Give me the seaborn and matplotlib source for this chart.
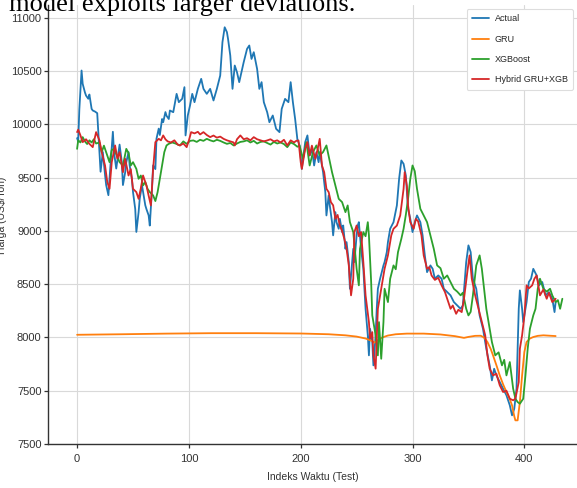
import matplotlib
matplotlib.use("Agg")
import matplotlib.pyplot as plt
import pandas as pd
import seaborn as sns

# ---- data: test-set index and price per model ----
actual_idx = [0, 1, 2, 4, 5, 7, 8, 10, 11, 13, 14, 16, 18, 20, 21, 23, 25, 26, 28, 29, 32, 33, 35, 37, 38, 40, 41, 43, 44, 46, 47, 49, 50, 52, 53, 55, 56, 58, 59, 61, 62, 64, 65, 67, 68, 70, 71, 73, 74, 76, 77, 79, 80, 82, 83, 86, 89, 91, 94, 96, 97, 99, 101, 103, 105, 108, 111, 113, 116, 119, 122, 125, 128, 130, 132, 134, 135, 137, 139, 141, 143, 145, 147, 149, 152, 154, 156, 158, 161, 163, 165, 167, 170, 172, 175, 178, 181, 183, 186, 189, 191, 193, 195, 197, 199, 201, 204, 206, 208, 210, 212, 214, 216, 217, 220, 222, 223, 225, 226, 228, 229, 231, 232, 234, 235, 237, 238, 240, 241, 243, 244, 245, 247, 248, 250, 251, 252, 254, 256, 257, 258, 260, 261, 262, 264, 265, 267, 268, 269, 271, 274, 275, 277, 278, 280, 283, 286, 288, 290, 292, 294, 296, 298, 300, 302, 304, 307, 309, 311, 313, 316, 318, 320, 323, 326, 328, 331, 334, 337, 340, 343, 345, 348, 350, 352, 354, 357, 360, 363, 366, 369, 371, 373, 375, 378, 381, 384, 387, 389, 391, 393, 395, 396, 398, 399, 402, 404, 406, 408, 411, 413, 416, 419, 422, 425, 427, 428]
actual_val = [9870, 9840, 10140, 10505, 10380, 10300, 10270, 10240, 10280, 10145, 10130, 10120, 10105, 9740, 9555, 9740, 9525, 9430, 9335, 9490, 9930, 9740, 9585, 9740, 9810, 9645, 9430, 9550, 9645, 9740, 9615, 9490, 9365, 9205, 8990, 9175, 9300, 9430, 9365, 9240, 9205, 9145, 9050, 9395, 9615, 9580, 9865, 9960, 9900, 10050, 10020, 10115, 10080, 10050, 10130, 10114, 10286, 10208, 10240, 10349, 9896, 10083, 10177, 10286, 10208, 10333, 10427, 10333, 10286, 10333, 10224, 10333, 10458, 10771, 10911, 10865, 10802, 10646, 10333, 10552, 10489, 10396, 10489, 10583, 10708, 10740, 10614, 10677, 10520, 10333, 10396, 10208, 10114, 10020, 10083, 9958, 9927, 10145, 10239, 10208, 10396, 10208, 10051, 9860, 9802, 9582, 9833, 9896, 9708, 9770, 9614, 9739, 9645, 9739, 9551, 9364, 9145, 9333, 9239, 9082, 8958, 9176, 9082, 9020, 9113, 8989, 9051, 8832, 8895, 8707, 8457, 8582, 8832, 8707, 8958, 9051, 9082, 8832, 8644, 8457, 8269, 8020, 7832, 8082, 7957, 7738, 8020, 8269, 8457, 8551, 8676, 8707, 8801, 8895, 9020, 9082, 9239, 9489, 9661, 9629, 9520, 9207, 9113, 8989, 9082, 9145, 9082, 8958, 8770, 8613, 8676, 8644, 8551, 8582, 8551, 8457, 8426, 8395, 8332, 8301, 8269, 8301, 8707, 8864, 8801, 8551, 8457, 8207, 8082, 7894, 7738, 7597, 7706, 7644, 7582, 7519, 7457, 7363, 7269, 7331, 7519, 8269, 8442, 8269, 8144, 8332, 8520, 8551, 8644, 8582, 8489, 8520, 8395, 8426, 8363, 8238, 8332]

gru_idx = [0, 40, 80, 120, 160, 200, 225, 240, 250, 258, 263, 266, 269, 273, 278, 285, 295, 310, 325, 338, 346, 350, 356, 361, 364, 367, 370, 372, 375, 378, 381, 384, 387, 389, 391, 392, 394, 396, 398, 400, 402, 405, 408, 412, 417, 423, 428]
gru_val = [8025, 8030, 8036, 8040, 8040, 8037, 8030, 8020, 8008, 7990, 7970, 7952, 7975, 8000, 8018, 8030, 8036, 8036, 8028, 8012, 7996, 8005, 8015, 8016, 8000, 7957, 7890, 7832, 7740, 7644, 7560, 7488, 7420, 7363, 7260, 7222, 7222, 7394, 7644, 7863, 7957, 7990, 8004, 8015, 8020, 8016, 8013]

xgb_idx = [0, 1, 3, 5, 7, 9, 11, 13, 15, 17, 20, 22, 24, 27, 29, 31, 33, 35, 38, 41, 44, 46, 48, 50, 53, 55, 57, 59, 61, 63, 65, 68, 70, 72, 74, 76, 78, 80, 82, 85, 88, 92, 95, 98, 101, 104, 107, 110, 113, 116, 119, 122, 125, 128, 131, 134, 137, 140, 143, 146, 149, 152, 155, 158, 161, 164, 167, 170, 173, 176, 179, 182, 185, 188, 191, 194, 197, 199, 202, 205, 208, 211, 214, 217, 220, 223, 225, 228, 231, 234, 237, 240, 242, 244, 247, 250, 252, 253, 256, 258, 260, 261, 263, 264, 267, 269, 270, 272, 274, 275, 278, 280, 283, 285, 287, 290, 292, 294, 296, 298, 300, 302, 304, 307, 310, 313, 316, 319, 322, 325, 328, 331, 334, 337, 340, 343, 345, 348, 350, 352, 354, 357, 360, 362, 364, 366, 369, 371, 374, 377, 380, 382, 384, 387, 390, 392, 394, 396, 399, 401, 403, 405, 408, 410, 412, 414, 417, 420, 423, 425, 428, 430, 432, 434]
xgb_val = [9770, 9850, 9830, 9880, 9840, 9815, 9850, 9830, 9860, 9820, 9830, 9739, 9800, 9708, 9645, 9760, 9770, 9720, 9645, 9614, 9770, 9730, 9614, 9645, 9582, 9489, 9520, 9427, 9458, 9395, 9364, 9333, 9280, 9364, 9489, 9614, 9739, 9802, 9817, 9830, 9820, 9802, 9840, 9817, 9845, 9849, 9835, 9855, 9845, 9864, 9850, 9840, 9855, 9845, 9830, 9817, 9825, 9802, 9820, 9835, 9840, 9850, 9830, 9845, 9820, 9835, 9840, 9825, 9810, 9835, 9820, 9830, 9815, 9786, 9830, 9815, 9790, 9800, 9676, 9833, 9614, 9739, 9802, 9708, 9740, 9802, 9700, 9551, 9427, 9301, 9270, 9176, 9239, 9082, 8989, 8644, 8489, 8832, 8989, 8950, 9082, 8958, 8520, 8207, 8020, 7832, 8144, 7800, 8144, 8457, 8332, 8551, 8676, 8640, 8801, 8926, 9020, 9150, 9300, 9489, 9614, 9560, 9395, 9207, 9145, 9082, 8958, 8832, 8676, 8650, 8551, 8582, 8520, 8457, 8430, 8395, 8420, 8269, 8207, 8240, 8395, 8676, 8770, 8644, 8457, 8269, 8082, 7957, 7832, 7860, 7738, 7790, 7644, 7769, 7519, 7425, 7394, 7378, 7425, 7644, 7894, 8082, 8207, 8269, 8457, 8551, 8457, 8430, 8457, 8395, 8332, 8350, 8269, 8363]

hyb_idx = [0, 1, 3, 5, 8, 11, 14, 17, 20, 22, 25, 27, 29, 31, 34, 36, 38, 41, 43, 46, 48, 50, 53, 55, 57, 59, 62, 64, 66, 68, 70, 73, 75, 77, 79, 81, 84, 87, 90, 92, 95, 98, 100, 102, 105, 108, 110, 113, 116, 119, 122, 125, 128, 131, 134, 137, 140, 141, 143, 146, 149, 152, 155, 158, 161, 164, 167, 170, 173, 176, 179, 182, 185, 188, 191, 194, 196, 198, 200, 201, 204, 206, 208, 210, 213, 215, 217, 219, 221, 223, 225, 227, 229, 231, 233, 235, 237, 239, 241, 243, 245, 247, 248, 250, 252, 254, 256, 258, 261, 262, 264, 265, 267, 268, 269, 272, 275, 278, 281, 283, 286, 289, 292, 293, 295, 296, 298, 301, 303, 305, 308, 310, 313, 315, 317, 320, 323, 326, 329, 332, 334, 336, 339, 341, 344, 346, 349, 351, 353, 356, 359, 362, 365, 367, 369, 372, 375, 378, 381, 384, 387, 390, 392, 395, 396, 398, 400, 402, 404, 407, 409, 411, 414, 417, 420, 422, 425, 428]
hyb_val = [9927, 9950, 9896, 9833, 9860, 9817, 9786, 9927, 9849, 9739, 9614, 9458, 9395, 9645, 9802, 9680, 9739, 9551, 9676, 9520, 9580, 9395, 9364, 9301, 9400, 9520, 9427, 9330, 9239, 9582, 9833, 9864, 9850, 9896, 9860, 9840, 9830, 9850, 9810, 9802, 9820, 9786, 9850, 9927, 9915, 9930, 9905, 9927, 9900, 9880, 9895, 9875, 9885, 9864, 9850, 9840, 9830, 9802, 9860, 9896, 9860, 9870, 9850, 9880, 9860, 9850, 9840, 9849, 9860, 9840, 9850, 9830, 9855, 9802, 9850, 9830, 9845, 9849, 9645, 9582, 9770, 9833, 9708, 9800, 9676, 9760, 9864, 9614, 9551, 9395, 9364, 9270, 9240, 9113, 9150, 9051, 9000, 8926, 8832, 8676, 8395, 8551, 8989, 9051, 8950, 8989, 8707, 8395, 8144, 7988, 8050, 7832, 7707, 7988, 8269, 8457, 8644, 8770, 8958, 9020, 9050, 9145, 9395, 9551, 9420, 9239, 9082, 9020, 9113, 9090, 8958, 8770, 8644, 8660, 8582, 8540, 8560, 8489, 8426, 8332, 8269, 8300, 8222, 8260, 8238, 8360, 8613, 8770, 8551, 8395, 8269, 8144, 8020, 7832, 7707, 7644, 7660, 7551, 7488, 7500, 7425, 7410, 7425, 7582, 7894, 8020, 8200, 8489, 8460, 8489, 8551, 8582, 8395, 8450, 8363, 8420, 8332, 8363]

series_names = ["Actual", "GRU", "XGBoost", "Hybrid GRU+XGB"]
series_colors = ["#1f77b4", "#ff7f0e", "#2ca02c", "#d62728"]

y_ticks = [7000, 7500, 8000, 8500, 9000, 9500, 10000, 10500, 11000]
y_tick_labels = ["7500", "7500", "8000", "8500", "9000", "9500", "10000", "10500", "11000"]
x_ticks = [0, 100, 200, 300, 400]

frames = []
for name, xs, ys in zip(series_names,
                        [actual_idx, gru_idx, xgb_idx, hyb_idx],
                        [actual_val, gru_val, xgb_val, hyb_val]):
    frames.append(pd.DataFrame({"idx": xs, "harga": ys, "model": name}))
df = pd.concat(frames, ignore_index=True)

# ---- style ----
sns.set_theme(style="whitegrid")
plt.rcParams["font.family"] = ["Liberation Sans", "DejaVu Sans"]
plt.rcParams["axes.edgecolor"] = "#333333"
plt.rcParams["grid.color"] = "#d9d9d9"
plt.rcParams["grid.linewidth"] = 0.8

fig = plt.figure(figsize=(5.77, 4.88), dpi=100)
ax = fig.add_axes([47.8 / 577, 44 / 488, 1 - 47.8 / 577, (444 - 5) / 488])

for name, color in zip(series_names, series_colors):
    sub = df[df["model"] == name]
    sns.lineplot(data=sub, x="idx", y="harga", ax=ax, color=color,
                 linewidth=1.3, estimator=None, label=name)

ax.set_xlim(-26.2, 447.1)
ax.set_ylim(7000, 11120)
ax.set_xticks(x_ticks)
ax.set_yticks(y_ticks)
ax.set_yticklabels(y_tick_labels)

for side in ("top", "right"):
    ax.spines[side].set_visible(False)
for side in ("left", "bottom"):
    ax.spines[side].set_linewidth(1.0)
    ax.spines[side].set_color("#333333")

ax.tick_params(axis="both", labelsize=8, colors="#333333", length=3, width=0.9,
               left=True, bottom=True)
ax.tick_params(axis="y", pad=1.5)
ax.tick_params(axis="x", pad=4)

ax.set_xlabel("Indeks Waktu (Test)", fontsize=7.5, color="#333333", labelpad=6)
ax.set_ylabel("Harga (US$/Ton)", fontsize=7.5, color="#333333")
ax.yaxis.set_label_coords((7 - 47.8) / 529.2, 0.52)

leg = ax.legend(loc="upper right", fontsize=6.5, frameon=True, framealpha=1,
                edgecolor="#dddddd", fancybox=True, handlelength=1.9,
                handletextpad=0.6, labelspacing=1.25, borderpad=0.6,
                borderaxespad=0.45)
leg.get_frame().set_linewidth(0.8)

# caption line from the surrounding text, partly cut at the top
fig.text(9 / 577, 1 - 10.5 / 488, "model exploits larger deviations.",
         fontsize=19, family=["Liberation Serif", "DejaVu Serif"],
         color="black", va="baseline", ha="left")

fig.savefig("out.png", dpi=100)
